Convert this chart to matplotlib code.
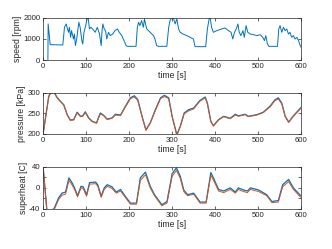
import matplotlib
matplotlib.use("Agg")
import matplotlib.pyplot as plt

# speed [rpm]
speed_t = [11, 11.6, 16.3, 45.7, 49.6, 53.5, 56.6, 59, 61, 64, 66, 70.5, 72.8, 75, 78, 83, 86, 90, 92,
           95, 99, 102, 104.7, 107.7, 110.9, 115, 121, 126, 131, 135, 137, 138.8, 142, 145, 148, 152,
           156, 162, 167, 172.8, 177, 183, 188, 193, 196, 216, 219, 222, 225, 229, 233, 235.7, 238,
           241, 248.8, 256.6, 260, 264, 268, 287.6, 292, 295, 299, 303, 307, 311, 315, 318.6, 325,
           334, 342, 349.6, 353, 357, 378, 382, 386, 388.6, 391.7, 396, 404, 415.5, 423, 431, 437,
           441, 445, 449, 453, 456, 460, 464.7, 467.8, 472, 476, 481, 489, 497, 504.6, 510.8, 514.7,
           517.8, 521.6, 525, 545, 548, 551, 555, 559, 562.8, 566.6, 570.5, 574, 578, 582, 586, 590,
           594, 598, 600]
speed_v = [0, 1714, 730, 714, 1555, 1714, 1476, 1317, 1555, 1079, 1397, 1000, 1238, 682, 1000, 1794,
           1555, 920, 762, 1317, 1635, 1952, 2000, 1476, 1555, 1476, 1317, 1555, 1238, 682, 1397, 1714,
           1476, 1397, 1000, 1317, 1159, 1238, 1397, 1476, 1317, 1159, 920, 682, 650, 650, 1555, 1794,
           1635, 1873, 1555, 1952, 1714, 1476, 1317, 1159, 1000, 682, 650, 650, 1555, 1873, 2000, 2000,
           1714, 1952, 1476, 1317, 1238, 1159, 1079, 1000, 650, 634, 634, 1476, 1952, 2000, 1555, 1317,
           1397, 1476, 1524, 1397, 1317, 1000, 1317, 1476, 1714, 1317, 1159, 1397, 1079, 1635, 1317,
           1238, 1206, 1159, 1206, 1079, 920, 1159, 762, 650, 650, 1476, 1635, 1317, 1555, 1397, 1476,
           1238, 1317, 1079, 1159, 1000, 1079, 920, 682, 603]

# pressure [kPa], two series (blue / orange)
pres_t = [0, 13, 17, 25, 33, 40, 48, 56, 63, 71, 79, 87, 92, 98, 106, 114, 124, 133, 141, 149, 160,
          168, 180, 191, 203, 212, 220, 230, 239, 249, 261, 273, 282, 292, 300, 311, 319, 328, 338,
          350, 364, 377, 382, 390, 396, 408, 420, 435, 447, 454, 470, 477, 497, 512, 528, 539, 547,
          555, 563, 571, 582, 600]
pres_a = [202, 292, 300, 302, 288, 280, 271, 247, 234, 235, 253, 243, 244, 254, 239, 231, 227, 251,
          245, 236, 239, 248, 246, 267, 288, 293, 284, 243, 210, 227, 259, 288, 294, 288, 243, 198,
          219, 251, 259, 263, 281, 290, 275, 231, 220, 235, 243, 238, 248, 244, 248, 243, 247, 253,
          268, 283, 288, 275, 243, 229, 244, 265]
pres_b = [200, 290, 299, 301, 287, 279, 270, 246, 233, 234, 251, 242, 243, 252, 238, 230, 226, 249,
          244, 235, 238, 246, 245, 265, 286, 290, 282, 242, 209, 226, 257, 286, 291, 286, 242, 196,
          218, 249, 256, 261, 279, 288, 273, 230, 219, 234, 242, 237, 246, 243, 247, 242, 246, 252,
          266, 281, 285, 273, 242, 228, 243, 263]

# superheat [C], two series
sh_t = [0, 9, 25, 36, 44, 52, 60, 67, 73, 80, 88, 93, 101, 108, 122, 127, 135, 142, 149, 160, 170,
        180, 191, 203, 217, 226, 238, 249, 259, 276, 288, 300, 310, 319, 327, 336, 350, 358, 365,
        379, 390, 396, 408, 420, 435, 447, 454, 466, 475, 482, 501, 520, 532, 547, 557, 571, 582,
        598, 600]
sh_a = [38, -45, -40, -19, -10, -8, 19, 10, 0, -15, 3, 2, -13, 10, 11, 6, -16, 0, 6, 2, -8, -3, -16,
        -29, -29, 19, 30, 3, -13, -32, -26, 27, 38, 22, -4, -13, -10, -19, -27, -27, 29, 19, -3, -6,
        0, -8, 0, -4, -6, 0, -4, -13, -26, -24, 6, 16, 0, -14, -15]
sh_b = [40, -48, -43, -22, -14, -12, 14, 6, -3, -17, 0, -1, -16, 7, 8, 3, -18, -3, 3, -1, -10, -6,
        -18, -31, -31, 14, 25, 0, -15, -34, -29, 22, 33, 18, -7, -15, -12, -21, -29, -29, 24, 15, -6,
        -9, -3, -10, -3, -7, -9, -3, -7, -15, -28, -27, 2, 12, -3, -17, -18]

blue = "#0072BD"
orange = "#D95319"
axcol = "#262626"

plt.rcParams["font.family"] = ["Liberation Sans", "DejaVu Sans"]

fig = plt.figure(figsize=(3.32, 2.49), dpi=100)
left, width = 0.130, 0.777
ax1 = fig.add_axes([left, 0.759, width, 0.169])
ax2 = fig.add_axes([left, 0.462, width, 0.165])
ax3 = fig.add_axes([left, 0.161, width, 0.169])

ax1.plot(speed_t, speed_v, color=blue, lw=0.7)
ax2.plot(pres_t, pres_a, color=blue, lw=0.9)
ax2.plot(pres_t, pres_b, color=orange, lw=0.7)
ax3.plot(sh_t, sh_a, color=blue, lw=0.9)
ax3.plot(sh_t, sh_b, color=orange, lw=0.7)

ax1.set_ylim(0, 2000)
ax1.set_yticks([0, 1000, 2000])
ax1.set_ylabel("speed [rpm]")
ax2.set_ylim(200, 300)
ax2.set_yticks([200, 250, 300])
ax2.set_ylabel("pressure [kPa]")
ax3.set_ylim(-40, 40)
ax3.set_yticks([-40, -20, 0, 20, 40])
ax3.set_yticklabels(["-40", "", "0", "", "40"])
ax3.set_ylabel("superheat [C]")

for ax in (ax1, ax2, ax3):
    ax.set_xlim(0, 600)
    ax.set_xticks(range(0, 601, 100))
    ax.set_xlabel("time [s]", fontsize=6.2, color=axcol, labelpad=1)
    ax.yaxis.label.set_fontsize(6.2)
    ax.yaxis.label.set_color(axcol)
    ax.yaxis.labelpad = 1
    ax.tick_params(direction="in", length=2, width=0.5, labelsize=5.6, colors=axcol,
                   top=True, right=True, pad=2)
    for s in ax.spines.values():
        s.set_linewidth(0.5)
        s.set_color(axcol)

fig.savefig("out.png", dpi=100)
